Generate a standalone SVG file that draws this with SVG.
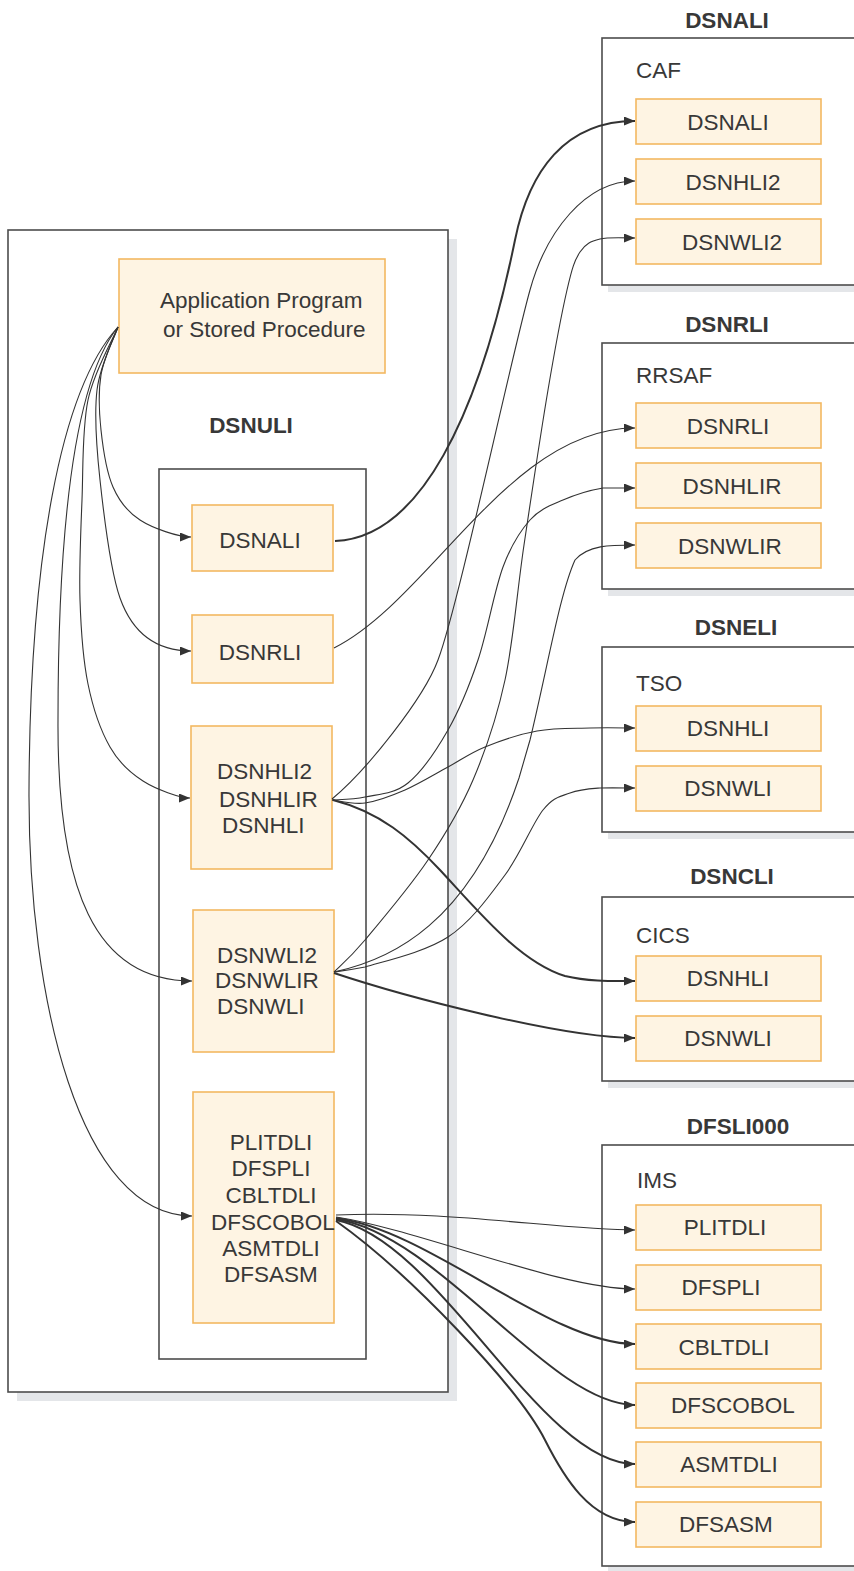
<svg xmlns="http://www.w3.org/2000/svg" width="854" height="1571" viewBox="0 0 854 1571">
<style>
text{font-family:"Liberation Sans",Arial,sans-serif;font-size:22.5px;fill:#383838}
.b{font-weight:bold}
.m{text-anchor:middle}
.frame{fill:#ffffff;stroke:#4d4d4d;stroke-width:1.6}
.shadow{fill:#e4e6e9}
.mod{fill:#fef4e3;stroke:#f3b861;stroke-width:1.6}
.c{fill:none;stroke:#333;stroke-width:1.1;marker-end:url(#ah)}
.t{fill:none;stroke:#333;stroke-width:2;marker-end:url(#ah)}
</style>
<defs>
<marker id="ah" markerUnits="userSpaceOnUse" markerWidth="11" markerHeight="9" refX="11" refY="4.5" orient="auto">
<path d="M0,0 L11,4.5 L0,9 z" fill="#333"/>
</marker>
</defs>
<rect width="854" height="1571" fill="#ffffff"/>

<g id="dsnuli-frame">
<rect class="shadow" x="17" y="239" width="440" height="1162"/>
<rect class="frame" x="8" y="230" width="440" height="1162"/>
<text class="b m" x="251" y="433">DSNULI</text>
<rect class="frame" x="159" y="469" width="207" height="890"/>
</g>
<g id="app">
<rect class="mod" x="119" y="259" width="266" height="114"/>
<text x="160" y="308">Application Program</text>
<text x="163" y="337">or Stored Procedure</text>
</g>
<g id="uli-dsnali"><rect class="mod" x="192" y="505" width="141" height="66"/><text class="m" x="260" y="548">DSNALI</text></g>
<g id="uli-dsnrli"><rect class="mod" x="192" y="615" width="141" height="68"/><text class="m" x="260" y="660">DSNRLI</text></g>
<g id="uli-dsnhli"><rect class="mod" x="191" y="726" width="141" height="143"/>
<text x="217" y="779">DSNHLI2</text><text x="219" y="807">DSNHLIR</text><text x="222" y="833">DSNHLI</text></g>
<g id="uli-dsnwli"><rect class="mod" x="193" y="910" width="141" height="142"/>
<text x="217" y="963">DSNWLI2</text><text x="215" y="988">DSNWLIR</text><text x="217" y="1014">DSNWLI</text></g>
<g id="uli-ims"><rect class="mod" x="193" y="1092" width="141" height="231"/>
<text class="m" x="271" y="1150">PLITDLI</text><text class="m" x="271" y="1176">DFSPLI</text><text class="m" x="271" y="1203">CBLTDLI</text><text class="m" x="273" y="1230">DFSCOBOL</text><text class="m" x="271" y="1256">ASMTDLI</text><text class="m" x="271" y="1282">DFSASM</text></g>

<g id="caf">
<text class="b m" x="727" y="28">DSNALI</text>
<rect class="shadow" x="608" y="45" width="260" height="247"/>
<rect class="frame" x="602" y="38" width="270" height="247"/>
<text x="636" y="78">CAF</text>
<g id="caf-dsnali"><rect class="mod" x="636" y="99" width="185" height="45"/><text class="m" x="728" y="130">DSNALI</text></g>
<g id="caf-dsnhli2"><rect class="mod" x="636" y="159" width="185" height="45"/><text class="m" x="733" y="190">DSNHLI2</text></g>
<g id="caf-dsnwli2"><rect class="mod" x="636" y="219" width="185" height="45"/><text class="m" x="732" y="250">DSNWLI2</text></g>
</g>
<g id="rrsaf">
<text class="b m" x="727" y="332">DSNRLI</text>
<rect class="shadow" x="608" y="350" width="260" height="246"/>
<rect class="frame" x="602" y="343" width="270" height="246"/>
<text x="636" y="383">RRSAF</text>
<g id="rrsaf-dsnrli"><rect class="mod" x="636" y="403" width="185" height="45"/><text class="m" x="728" y="434">DSNRLI</text></g>
<g id="rrsaf-dsnhlir"><rect class="mod" x="636" y="463" width="185" height="45"/><text class="m" x="732" y="494">DSNHLIR</text></g>
<g id="rrsaf-dsnwlir"><rect class="mod" x="636" y="523" width="185" height="45"/><text class="m" x="730" y="554">DSNWLIR</text></g>
</g>
<g id="tso">
<text class="b m" x="736" y="635">DSNELI</text>
<rect class="shadow" x="608" y="654" width="260" height="185"/>
<rect class="frame" x="602" y="647" width="270" height="185"/>
<text x="636" y="691">TSO</text>
<g id="tso-dsnhli"><rect class="mod" x="636" y="706" width="185" height="45"/><text class="m" x="728" y="736">DSNHLI</text></g>
<g id="tso-dsnwli"><rect class="mod" x="636" y="766" width="185" height="45"/><text class="m" x="728" y="796">DSNWLI</text></g>
</g>
<g id="cics">
<text class="b m" x="732" y="884">DSNCLI</text>
<rect class="shadow" x="608" y="904" width="260" height="184"/>
<rect class="frame" x="602" y="897" width="270" height="184"/>
<text x="636" y="943">CICS</text>
<g id="cics-dsnhli"><rect class="mod" x="636" y="956" width="185" height="45"/><text class="m" x="728" y="986">DSNHLI</text></g>
<g id="cics-dsnwli"><rect class="mod" x="636" y="1016" width="185" height="45"/><text class="m" x="728" y="1046">DSNWLI</text></g>
</g>
<g id="ims">
<text class="b m" x="738" y="1134">DFSLI000</text>
<rect class="shadow" x="608" y="1152" width="260" height="421"/>
<rect class="frame" x="602" y="1145" width="270" height="421"/>
<text x="637" y="1188">IMS</text>
<g id="ims-plitdli"><rect class="mod" x="636" y="1205" width="185" height="45"/><text class="m" x="725" y="1235">PLITDLI</text></g>
<g id="ims-dfspli"><rect class="mod" x="636" y="1265" width="185" height="45"/><text class="m" x="721" y="1295">DFSPLI</text></g>
<g id="ims-cbltdli"><rect class="mod" x="636" y="1324" width="185" height="45"/><text class="m" x="724" y="1355">CBLTDLI</text></g>
<g id="ims-dfscobol"><rect class="mod" x="636" y="1383" width="185" height="45"/><text class="m" x="733" y="1413">DFSCOBOL</text></g>
<g id="ims-asmtdli"><rect class="mod" x="636" y="1442" width="185" height="45"/><text class="m" x="729" y="1472">ASMTDLI</text></g>
<g id="ims-dfsasm"><rect class="mod" x="636" y="1502" width="185" height="45"/><text class="m" x="726" y="1532">DFSASM</text></g>
</g>

<g id="connectors">
<path class="c" d="M118,327 C115.2,335 103.8,357.8 101,375 C98.2,392.2 99,411.3 101,430 C103,448.7 106.5,472 113,487 C119.5,502 127.2,511.7 140,520 C152.8,528.3 178,537 191,537"/>
<path class="c" d="M118,327 C114.5,337.5 100,364.5 97,390 C94,415.5 96.2,445 100,480 C103.8,515 110,570 120,598 C130,626 150,651 191,651"/>
<path class="c" d="M118,327 C113,339.2 94,371.2 88,400 C82,428.8 83.3,466.7 82,500 C80.7,533.3 79,569.3 80,600 C81,630.7 83,659.5 88,684 C93,708.5 100.8,730.8 110,747 C119.2,763.2 129.7,772.5 143,781 C156.3,789.5 180,798 190,798"/>
<path class="c" d="M118,327 C75,380 58,520 58,720 C57,890 95,981 192,981"/>
<path class="c" d="M118,327 C60,390 30,560 29,790 C28,1000 80,1216 192,1216"/>

<path class="t" d="M335,541 C420,538 479,416 515,240 C529,171 565,121 635,121"/>
<path class="c" d="M334,648 C430,600 510,428 635,428"/>

<path class="c" d="M332,799 C367,770 424,698 438,660 C459,604 511,357.5 530,290 C546,232 585,181 635,181"/>
<path class="c" d="M332,800 C337.5,799.5 352.3,799.8 365,797 C377.7,794.2 394.2,794.2 408,783 C421.8,771.8 436.3,750.5 448,730 C459.7,709.5 468.8,687.2 478,660 C487.2,632.8 494.3,590.3 503,567 C511.7,543.7 520,531.2 530,520 C540,508.8 550.8,505.3 563,500 C575.2,494.7 591,490 603,488 C615,488 628,488 635,488"/>
<path class="c" d="M332,800 C337.5,800.5 352.8,804.7 365,803 C377.2,801.3 391.2,796 405,790 C418.8,784 434.7,774.2 448,767 C461.3,759.8 470.2,753 485,747 C499.8,741 519.5,734.2 537,731 C554.5,727.8 573.7,728.5 590,728 C606.3,727.5 628,728 635,728"/>
<path class="t" d="M333,800 C380,812 410,838 440,870 C480,913 520,962 565,976 C590,982 615,981 635,981"/>

<path class="c" d="M334,972 C339.2,966.7 349.3,958.7 365,940 C380.7,921.3 410,886.7 428,860 C446,833.3 460.2,810 473,780 C485.8,750 496.5,719.2 505,680 C513.5,640.8 516.8,593.3 524,545 C531.2,496.7 540.8,432.5 548,390 C555.2,347.5 561.7,313 567,290 C572.3,267 574.5,260.5 580,252 C585.5,243.5 590.8,241.3 600,239 C609.2,236.7 628,238 635,238"/>
<path class="c" d="M334,972 C390,960 470,925 519,778 L530,740 C548,665 560,593 575,560 C588,545 610,545 635,545"/>
<path class="c" d="M334,972 C339.2,971.2 350,970 365,967 C384,961.2 424.7,952.3 448,937 C471.3,921.7 489.2,896.2 505,875 C520.8,853.8 532.2,823.7 543,810 C553.8,796.3 560.5,796.7 570,793 C579.5,789.3 589.2,788.8 600,788 C610.8,787.8 628,788 635,788"/>
<path class="t" d="M334,973 C400,995 560,1038 635,1038"/>

<path class="c" d="M336,1215 C450,1210 560,1230 635,1230"/>
<path class="c" d="M336,1217 C420,1230 560,1289 635,1289"/>
<path class="t" d="M336,1218 C430,1230 550,1344 635,1344"/>
<path class="t" d="M336,1219 C440,1235 550,1405 635,1405"/>
<path class="t" d="M336,1220 C440,1240 540,1464 635,1464"/>
<path class="t" d="M336,1221 C408,1272 518,1387 545,1440 C563,1475.6 590,1522 635,1522"/>
</g>
</svg>
